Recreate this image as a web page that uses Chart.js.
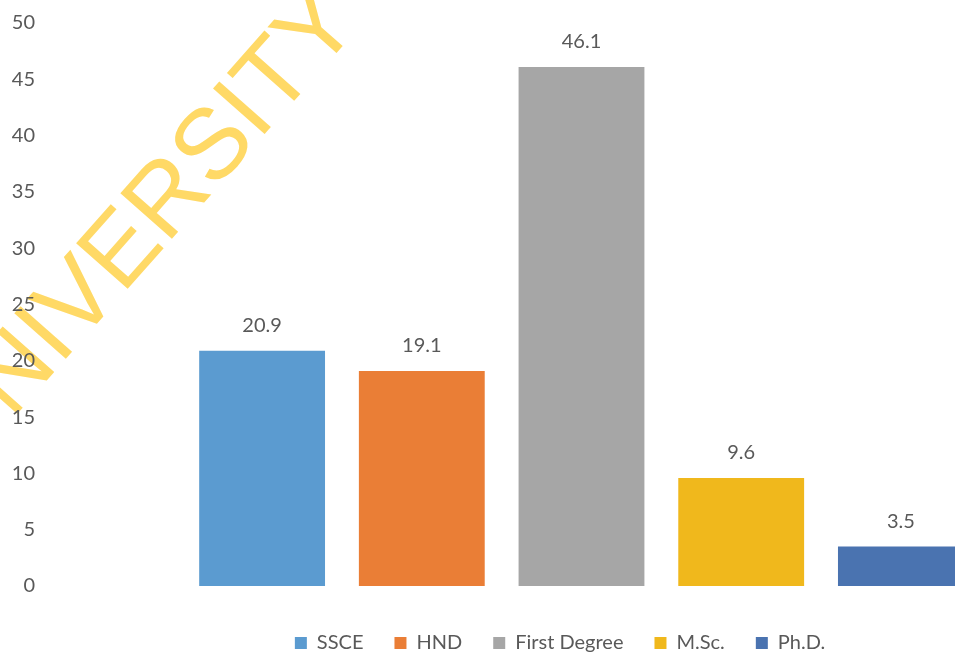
<!DOCTYPE html>
<html lang="en">

<head>
    <meta charset="UTF-8">
    <title>Educational qualification of respondents</title>
    <script src="https://cdn.jsdelivr.net/npm/chart.js@4.4.1/dist/chart.umd.min.js"></script>
    <style>
        body { margin: 0; overflow: hidden; background: #ffffff; }
    </style>
</head>

<body>
    <canvas id="myChart" width="1120" height="670"></canvas>

    <script>
        // Chart values
        var levels = ["SSCE", "HND", "First Degree", "M.Sc.", "Ph.D."];
        var percents = [20.9, 19.1, 46.1, 9.6, 3.5];
        var yTickValues = [0, 5, 10, 15, 20, 25, 30, 35, 40, 45, 50];

        var barColors = ["#5B9BD0", "#EA7E36", "#A6A6A6", "#F0B81C", "#4A73B0"];
        var textColor = "#595959";

        // One dataset per level so each gets its own legend entry
        var datasets = levels.map(function (name, i) {
            return {
                label: name,
                data: [percents[i]],
                backgroundColor: barColors[i],
                borderWidth: 0
            };
        });

        // Faint watermark behind the chart
        var watermark = {
            id: "watermark",
            beforeDraw: function (chart) {
                var ctx = chart.ctx;
                ctx.save();
                ctx.translate(-36, 474);
                ctx.rotate(-48.5 * Math.PI / 180);
                ctx.font = "100px 'Liberation Sans'";
                ctx.fillStyle = "#FFD966";
                ctx.textBaseline = "alphabetic";
                ctx.fillText("UNIVERSITY", 0, 0);
                ctx.restore();
            }
        };

        // Value written above each bar
        var valueLabels = {
            id: "valueLabels",
            afterDatasetsDraw: function (chart) {
                var ctx = chart.ctx;
                ctx.save();
                ctx.font = "20px Lato";
                ctx.fillStyle = textColor;
                ctx.textAlign = "center";
                ctx.textBaseline = "alphabetic";
                chart.data.datasets.forEach(function (ds, i) {
                    var bar = chart.getDatasetMeta(i).data[0];
                    ctx.fillText(ds.data[0].toFixed(1), bar.x, bar.y - 19);
                });
                ctx.restore();
            }
        };

        var chart = new Chart(document.getElementById("myChart"), {
            type: "bar",
            data: {
                labels: [""],
                datasets: datasets
            },
            plugins: [watermark, valueLabels],
            options: {
                responsive: false,
                animation: false,
                categoryPercentage: 0.7414,
                barPercentage: 0.788,
                layout: {
                    padding: { top: 23, left: 0, right: 0, bottom: 7 }
                },
                plugins: {
                    legend: {
                        position: "bottom",
                        labels: {
                            boxWidth: 12,
                            boxHeight: 12,
                            padding: 31,
                            color: textColor,
                            font: { family: "Lato", size: 20 }
                        }
                    },
                    tooltip: { enabled: false }
                },
                scales: {
                    x: {
                        grid: { display: false, drawTicks: false },
                        border: { display: false },
                        ticks: { display: false },
                        afterFit: function (scale) { scale.height = 16; }
                    },
                    y: {
                        min: 0,
                        max: 50,
                        grid: { display: false, drawTicks: false },
                        border: { display: false },
                        afterBuildTicks: function (scale) {
                            scale.ticks = yTickValues.map(function (v) { return { value: v }; });
                        },
                        ticks: {
                            padding: 8,
                            color: textColor,
                            font: { family: "Lato", size: 20 }
                        },
                        afterFit: function (scale) { scale.width = 43; }
                    }
                }
            }
        });
    </script>
</body>

</html>
